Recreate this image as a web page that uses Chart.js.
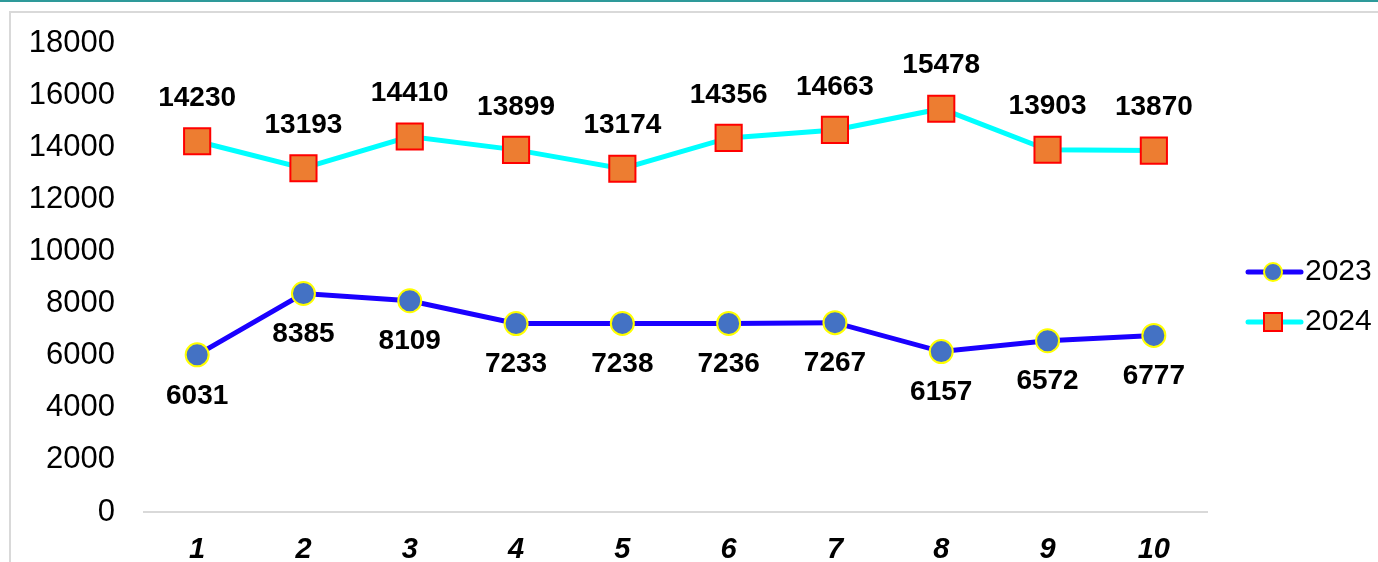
<!DOCTYPE html>
<html><head><meta charset="utf-8">
<script src="https://cdn.jsdelivr.net/npm/chart.js@4/dist/chart.umd.min.js"></script>
<style>
html,body{margin:0;padding:0;background:#fff;overflow:hidden;width:1378px;height:562px}
#topline{position:absolute;left:0;top:0;width:1378px;height:2px;background:#2e9a9a}
#frame{position:absolute;left:9px;top:11px;width:1400px;height:600px;border:2px solid #d9d9d9;box-sizing:border-box}
#wrap{position:absolute;left:0;top:0;width:1378px;height:562px}
</style></head><body>
<div id="topline"></div><div id="frame"></div>
<div id="wrap"><canvas id="c" width="1378" height="562"></canvas></div>
<script>
const categories = ['1','2','3','4','5','6','7','8','9','10'];
const seriesNames = ['2023','2024'];
const values2023 = [6031,8385,8109,7233,7238,7236,7267,6157,6572,6777];
const values2024 = [14230,13193,14410,13899,13174,14356,14663,15478,13903,13870];
const yMin = 0, yMax = 18000, yStep = 2000;

const FONT = '"Liberation Sans", Arial, sans-serif';

const dataLabels = {
  id: 'dataLabels',
  afterDatasetsDraw(chart) {
    const ctx = chart.ctx;
    ctx.save();
    ctx.font = 'bold 28px ' + FONT;
    ctx.fillStyle = '#000';
    ctx.textAlign = 'center';
    ctx.textBaseline = 'middle';
    chart.data.datasets.forEach((ds, i) => {
      const meta = chart.getDatasetMeta(i);
      meta.data.forEach((pt, j) => {
        ctx.fillText(String(ds.data[j]), pt.x, pt.y + ds.labelOffset);
      });
    });
    ctx.restore();
  }
};

const customLegend = {
  id: 'customLegend',
  afterDraw(chart) {
    const ctx = chart.ctx;
    const rows = [272, 322];
    chart.data.datasets.forEach((ds, i) => {
      const y = rows[i];
      ctx.save();
      ctx.strokeStyle = ds.borderColor;
      ctx.lineWidth = ds.borderWidth;
      ctx.lineCap = 'round';
      ctx.beginPath(); ctx.moveTo(1248, y); ctx.lineTo(1301, y); ctx.stroke();
      ctx.fillStyle = ds.pointBackgroundColor;
      ctx.strokeStyle = ds.pointBorderColor;
      ctx.lineWidth = 2;
      ctx.lineCap = 'butt';
      if (ds.pointStyle === 'circle') {
        ctx.beginPath(); ctx.arc(1273, y, 9, 0, Math.PI * 2); ctx.fill(); ctx.stroke();
      } else {
        ctx.beginPath(); ctx.rect(1264, y - 9, 18, 18); ctx.fill(); ctx.stroke();
      }
      ctx.fillStyle = '#000';
      ctx.font = '30px ' + FONT;
      ctx.textAlign = 'left';
      ctx.textBaseline = 'middle';
      ctx.fillText(ds.label, 1305, y);
      ctx.restore();
    });
  }
};

new Chart(document.getElementById('c'), {
  type: 'line',
  data: {
    labels: categories,
    datasets: [
      {
        label: seriesNames[0], data: values2023,
        borderColor: '#1a00ff', borderWidth: 5,
        pointStyle: 'circle', pointRadius: 11.5, pointHoverRadius: 11.5,
        pointBackgroundColor: '#4472c4', pointBorderColor: '#ffff00', pointBorderWidth: 2,
        tension: 0, labelOffset: 41
      },
      {
        label: seriesNames[1], data: values2024,
        borderColor: '#00ffff', borderWidth: 5,
        pointStyle: 'rect', pointRadius: 18.5, pointHoverRadius: 18.5,
        pointBackgroundColor: '#ed7d31', pointBorderColor: '#ff0000', pointBorderWidth: 2,
        tension: 0, labelOffset: -43
      }
    ]
  },
  options: {
    responsive: false,
    animation: false,
    events: [],
    layout: { padding: { top: 43, right: 171, left: 0, bottom: 0 } },
    plugins: { legend: { display: false }, tooltip: { enabled: false } },
    scales: {
      x: {
        offset: true,
        grid: { display: false, drawTicks: false },
        border: { display: true, color: '#d9d9d9', width: 2 },
        ticks: { color: '#000', padding: 21, font: { family: FONT, size: 29, weight: 'bold', style: 'italic' } },
        afterFit(s) { s.height = 50; }
      },
      y: {
        min: yMin, max: yMax,
        grid: { display: false, drawTicks: false },
        border: { display: false },
        ticks: { stepSize: yStep, color: '#000', padding: 29, font: { family: FONT, size: 31 },
                 callback: (v) => String(v) },
        afterFit(s) { s.width = 144; s.paddingTop = 0; s.paddingBottom = 0; }
      }
    }
  },
  plugins: [dataLabels, customLegend]
});
</script>
</body></html>
